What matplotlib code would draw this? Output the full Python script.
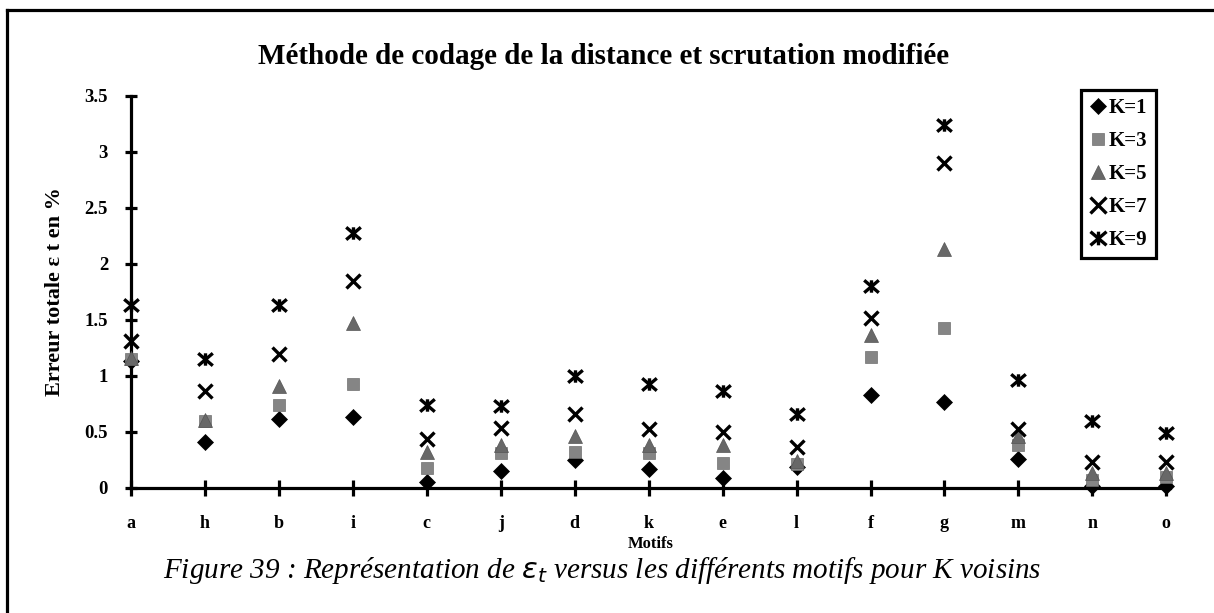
import matplotlib
matplotlib.use("Agg")
import matplotlib.pyplot as plt
from matplotlib.path import Path
from matplotlib.lines import Line2D

# Categories (pattern identifiers) along the x axis
motifs = ["a", "h", "b", "i", "c", "j", "d", "k", "e", "l", "f", "g", "m", "n", "o"]

# Total error (%) per pattern, for each number of neighbours K
err_k1 = [1.13, 0.41, 0.62, 0.63, 0.05, 0.15, 0.25, 0.17, 0.09, 0.19, 0.83, 0.77, 0.26, 0.02, 0.02]
err_k3 = [1.15, 0.60, 0.74, 0.93, 0.18, 0.31, 0.32, 0.31, 0.22, 0.21, 1.17, 1.43, 0.38, 0.07, 0.10]
err_k5 = [1.16, 0.61, 0.91, 1.47, 0.32, 0.38, 0.46, 0.38, 0.38, 0.24, 1.37, 2.13, 0.46, 0.13, 0.13]
err_k7 = [1.31, 0.87, 1.20, 1.85, 0.44, 0.54, 0.66, 0.53, 0.50, 0.37, 1.52, 2.90, 0.53, 0.23, 0.23]
err_k9 = [1.63, 1.15, 1.63, 2.28, 0.74, 0.73, 1.00, 0.93, 0.87, 0.66, 1.80, 3.24, 0.96, 0.60, 0.49]

y_ticks = [0, 0.5, 1, 1.5, 2, 2.5, 3, 3.5]
y_tick_labels = ["0", "0.5", "1", "1.5", "2", "2.5", "3", "3.5"]

plt.rcParams["font.family"] = ["Liberation Serif", "DejaVu Serif"]

W, H = 1214, 613
fig = plt.figure(figsize=(W / 100, H / 100), dpi=100)
fig.patch.set_facecolor("white")

# Axes placed in pixel terms
left, right, bottom, top = 131, 1170, 488, 96
ax = fig.add_axes([left / W, 1 - bottom / H, (right - left) / W, (bottom - top) / H])

# Star marker: an X crossed by a vertical stroke
star = Path([(-1, -0.85), (1, 0.85), (-1, 0.85), (1, -0.85), (0, -0.85), (0, 0.85)],
            [Path.MOVETO, Path.LINETO, Path.MOVETO, Path.LINETO, Path.MOVETO, Path.LINETO])

x = list(range(len(motifs)))
series = [
    ("K=1", err_k1, dict(marker="D", ms=7.7, color="black", mec="black", mew=0.5)),
    ("K=3", err_k3, dict(marker="s", ms=8.5, color="#858585", mec="#707070", mew=0.5)),
    ("K=5", err_k5, dict(marker="^", ms=9.5, color="#686868", mec="#555555", mew=0.5)),
    ("K=7", err_k7, dict(marker="x", ms=10.5, color="black", mew=2.4)),
    ("K=9", err_k9, dict(marker=star, ms=10.5, color="black", mew=2.4)),
]
for label, vals, style in series:
    ax.plot(x, vals, linestyle="none", label=label, clip_on=False, zorder=3, **style)

ax.set_xlim(0, 14.05)
ax.set_ylim(0, 3.5)

for s in ["top", "right"]:
    ax.spines[s].set_visible(False)
for s in ["left", "bottom"]:
    ax.spines[s].set_linewidth(2.3)
    ax.spines[s].set_color("black")

ax.set_xticks(x)
ax.set_xticklabels(motifs)
ax.set_yticks(y_ticks)
ax.set_yticklabels(y_tick_labels)
ax.tick_params(axis="x", direction="inout", length=11, width=2.3, pad=14,
               labelsize=13)
ax.tick_params(axis="y", direction="inout", length=9, width=2.3, pad=12,
               labelsize=13.5)
for lab in ax.get_xticklabels() + ax.get_yticklabels():
    lab.set_fontweight("bold")

ax.set_xlabel("Motifs", fontsize=12, fontweight="bold", labelpad=3)
ax.set_ylabel("Erreur totale ε t en %", fontsize=16, fontweight="bold", labelpad=14)

fig.text(0.497, 1 - 57 / H, "Méthode de codage de la distance et scrutation modifiée",
         ha="center", va="center", fontsize=21, fontweight="bold")

leg = ax.legend(loc="upper right", bbox_to_anchor=(1156 / W, 1 - 90 / H),
                bbox_transform=fig.transFigure, borderaxespad=0,
                prop=dict(weight="bold", size=15), handlelength=0.8,
                handletextpad=0.15, labelspacing=0.62, borderpad=0.4,
                fancybox=False, framealpha=1, edgecolor="black", markerscale=1.1)
leg.get_frame().set_linewidth(2.3)

fig.text(0.496, 1 - 570 / H,
         "Figure 39 : Représentation de $\\epsilon_t$ versus les différents motifs pour K voisins",
         ha="center", va="center", fontsize=21, fontstyle="italic")

# Border around the figure
fig.add_artist(Line2D([7 / W, 1.0], [1 - 10 / H, 1 - 10 / H], transform=fig.transFigure,
                      color="black", lw=2.3))
fig.add_artist(Line2D([7 / W, 7 / W], [0.0, 1 - 10 / H], transform=fig.transFigure,
                      color="black", lw=2.3))

fig.savefig("out.png", dpi=100)
